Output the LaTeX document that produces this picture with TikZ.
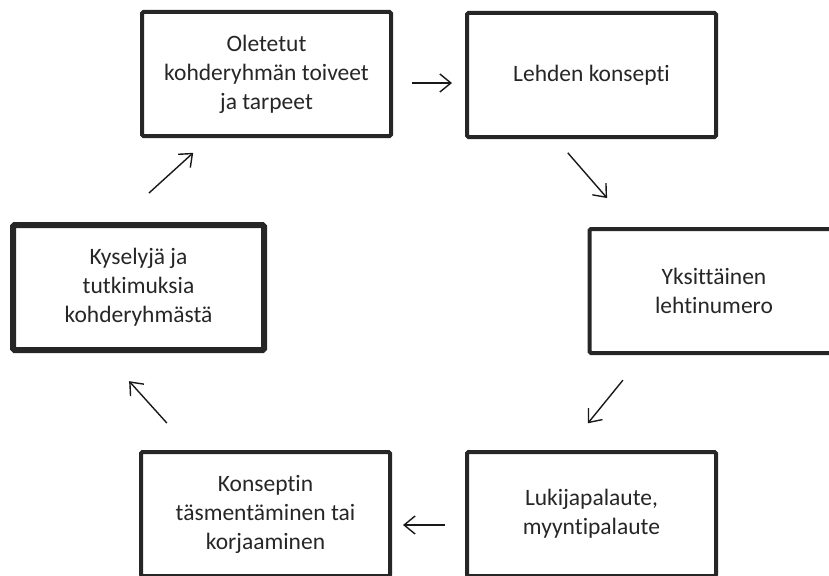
\documentclass[tikz,border=0pt]{standalone}
\usepackage{fontspec}
\setmainfont{Carlito}[Ligatures=NoCommon]
\usetikzlibrary{arrows.meta}

\tikzset{
  stage/.style={draw=black!85, line width=4pt, rounded corners=1.5pt, align=center,
    minimum width=249pt, minimum height=124pt, inner sep=0pt, outer sep=0pt,
    text=black!85, font=\fontsize{23.5}{29}\selectfont},
  boldstage/.style={stage, line width=6pt, minimum width=251pt, minimum height=125pt},
  flow/.style={-{Straight Barb[length=11pt,width=18pt]}, line width=1.4pt, draw=black!90},
}

\begin{document}
\begin{tikzpicture}[x=1pt, y=-1pt]
    \useasboundingbox (0,0) rectangle (829,575);
    \clip (0,0) rectangle (829,575);

    \node[stage] at (266.5, 74) (toiveet) {Oletetut\\kohderyhmän toiveet\\ja tarpeet};
    \node[stage] at (591.5, 75) (konsepti) {Lehden konsepti};
    \node[stage] at (714, 291) (numero) {Yksittäinen\\lehtinumero};
    \node[stage] at (591.5, 514) (palaute) {Lukijapalaute,\\myyntipalaute};
    \node[stage] at (265.5, 514) (korjaus) {Konseptin\\täsmentäminen tai\\korjaaminen};
    \node[boldstage] at (138.5, 287.5) (kyselyt) {Kyselyjä ja\\tutkimuksia\\kohderyhmästä};

    % the cycle, clockwise from the top left
    \draw[flow, shorten <=21pt, shorten >=15pt] ([yshift=-9pt]toiveet.east) -- ([yshift=-8pt]konsepti.west);
    \draw[flow, shorten <=21pt, shorten >=41pt] ([xshift=-37.5pt]konsepti.south) -- ([xshift=-80pt]numero.north);
    \draw[flow, shorten <=35pt, shorten >=37pt] ([xshift=-69pt]numero.south) -- ([xshift=-27pt]palaute.north);
    \draw[flow, shorten <=22pt, shorten >=13pt] ([yshift=-11pt]palaute.west) -- ([yshift=-11pt]korjaus.east);
    \draw[flow, shorten <=39pt, shorten >=42pt] ([xshift=-72.5pt]korjaus.north) -- ([xshift=-37.5pt]kyselyt.south);
    \draw[flow, shorten <=47.5pt, shorten >=25pt] ([xshift=-24.7pt]kyselyt.north) -- ([xshift=-54.8pt]toiveet.south);
\end{tikzpicture}
\end{document}
